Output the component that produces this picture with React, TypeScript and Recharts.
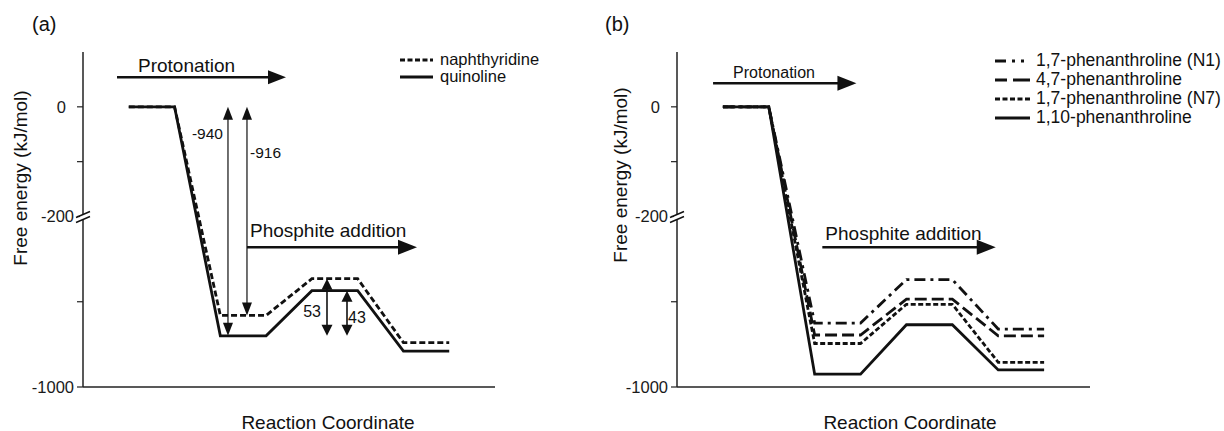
import React from 'react';
import { LineChart, Line, XAxis, YAxis, ReferenceLine, ReferenceDot, Legend } from 'recharts';

// ---------- data ----------
const steps = [0, 1, 2, 3, 4, 5, 6, 7];
const quinoline = [0, 0, -940, -940, -887, -887, -958, -958];
const naphthyridine = [0, 0, -916, -916, -873, -873, -948, -948];

const phen110 = [0, 0, -985, -985, -927, -927, -980, -980];
const phen17N7 = [0, 0, -949, -949, -903, -903, -971, -971];
const phen47 = [0, 0, -939, -939, -897, -897, -940, -940];
const phen17N1 = [0, 0, -925, -925, -874, -874, -932, -932];

const tickValues = [0, -100, -200, -900, -1000];
const tickLabels = ['0', '', '-200', '', '-1000'];

// ---------- broken axis transform ----------
const BREAK_HI = -200;
const BREAK_LO = -800;
const K = 1.555;
const T = (v: number) => (v >= BREAK_HI ? v : BREAK_HI + (v - BREAK_LO) * K);
const Y_DOMAIN: [number, number] = [T(-1000), 100];

const INK = '#111';
const FONT = '"Liberation Sans", Arial, sans-serif';

type Series = { key: string; name: string; values: number[]; dash?: string; legendDash?: string };

const seriesA: Series[] = [
  { key: 'naphthyridine', name: 'naphthyridine', values: naphthyridine, dash: '6 3', legendDash: '5 2.5' },
  { key: 'quinoline', name: 'quinoline', values: quinoline },
];
const seriesB: Series[] = [
  { key: 'n1', name: '1,7-phenanthroline (N1)', values: phen17N1, dash: '11 5 3 5', legendDash: '11 6 3 6 3 20' },
  { key: 'p47', name: '4,7-phenanthroline', values: phen47, dash: '12 5', legendDash: '12 6 20 0' },
  { key: 'n7', name: '1,7-phenanthroline (N7)', values: phen17N7, dash: '5 2.5', legendDash: '5 2.5' },
  { key: 'p110', name: '1,10-phenanthroline', values: phen110 },
];

const buildTable = (series: Series[]) =>
  steps.map((s, i) => {
    const row: any = { x: s };
    series.forEach((se) => (row[se.key] = T(se.values[i])));
    return row;
  });

type Arrow = { x1: number; v1: number; x2: number; v2: number; w: number; len: number; hw: number; both?: boolean };
type Note = { x: number; v: number; text: string; size: number; anchor: 'start' | 'end' | 'middle' };

const arrowsA: Arrow[] = [
  { x1: -0.257, v1: 54, x2: 3.434, v2: 54, w: 2.6, len: 18, hw: 7 },
  { x1: 2.582, v1: -836, x2: 6.296, v2: -836, w: 2.6, len: 19, hw: 7.5 },
  { x1: 2.167, v1: 0, x2: 2.167, v2: -940, w: 1.2, len: 13, hw: 5, both: true },
  { x1: 2.582, v1: 0, x2: 2.582, v2: -916, w: 1.2, len: 13, hw: 5, both: true },
  { x1: 4.33, v1: -873, x2: 4.33, v2: -940, w: 1.6, len: 11, hw: 5.5, both: true },
  { x1: 4.767, v1: -887, x2: 4.767, v2: -940, w: 1.6, len: 11, hw: 5.5, both: true },
];
const notesA: Note[] = [
  { x: 0.201, v: 76, text: 'Protonation', size: 19, anchor: 'start' },
  { x: 2.648, v: -817, text: 'Phosphite addition', size: 19, anchor: 'start' },
  { x: 2.058, v: -48, text: '-940', size: 15.5, anchor: 'end' },
  { x: 2.648, v: -84, text: '-916', size: 15.5, anchor: 'start' },
  { x: 4.199, v: -912, text: '53', size: 16, anchor: 'end' },
  { x: 4.789, v: -918, text: '43', size: 16, anchor: 'start' },
];
const arrowsB: Arrow[] = [
  { x1: -0.214, v1: 43, x2: 2.91, v2: 43, w: 2.6, len: 19, hw: 7.5 },
  { x1: 2.167, v1: -836, x2: 5.946, v2: -836, w: 2.6, len: 19, hw: 7.5 },
];
const notesB: Note[] = [
  { x: 0.223, v: 63, text: 'Protonation', size: 16, anchor: 'start' },
  { x: 2.233, v: -820, text: 'Phosphite addition', size: 19, anchor: 'start' },
];

// ---------- drawing helpers ----------
const arrowShape = (a: Arrow) => (p: any) => {
  const { x1, y1, x2, y2 } = p;
  const dx = x2 - x1;
  const dy = y2 - y1;
  const L = Math.hypot(dx, dy) || 1;
  const ux = dx / L;
  const uy = dy / L;
  const px = -uy;
  const py = ux;
  const head = (tx: number, ty: number, dxu: number, dyu: number) =>
    `${tx},${ty} ${tx - dxu * a.len + px * a.hw},${ty - dyu * a.len + py * a.hw} ${tx - dxu * a.len - px * a.hw},${ty - dyu * a.len - py * a.hw}`;
  const sx = a.both ? x1 + ux * a.len * 0.8 : x1;
  const sy = a.both ? y1 + uy * a.len * 0.8 : y1;
  const ex = x2 - ux * a.len * 0.8;
  const ey = y2 - uy * a.len * 0.8;
  return (
    <g>
      <line x1={sx} y1={sy} x2={ex} y2={ey} stroke={INK} strokeWidth={a.w} />
      <polygon points={head(x2, y2, ux, uy)} fill={INK} />
      {a.both ? <polygon points={head(x1, y1, -ux, -uy)} fill={INK} /> : null}
    </g>
  );
};

const renderArrows = (list: Arrow[], prefix: string) =>
  list.map((a, i) => (
    <ReferenceLine
      key={`${prefix}-arr-${i}`}
      segment={[
        { x: a.x1, y: T(a.v1) },
        { x: a.x2, y: T(a.v2) },
      ]}
      ifOverflow="visible"
      shape={arrowShape(a)}
    />
  ));

const renderNotes = (list: Note[], prefix: string) =>
  list.map((n, i) => (
    <ReferenceDot
      key={`${prefix}-note-${i}`}
      x={n.x}
      y={T(n.v)}
      r={1}
      ifOverflow="visible"
      shape={(p: any) => (
        <text
          x={p.cx}
          y={p.cy}
          textAnchor={n.anchor}
          dominantBaseline="central"
          fontSize={n.size}
          fontFamily={FONT}
          fill={INK}
        >
          {n.text}
        </text>
      )}
    />
  ));

const breakMark = (prefix: string) => (
  <ReferenceDot
    key={`${prefix}-break`}
    x={-1}
    y={T(-200)}
    r={1}
    ifOverflow="visible"
    shape={(p: any) => {
      const cx = p.cx;
      const cy = p.cy;
      return (
        <g>
          <rect x={cx - 3} y={cy - 1.5} width={6} height={4} fill="#fff" />
          <line x1={cx - 7} y1={cy + 1} x2={cx + 7} y2={cy - 5} stroke={INK} strokeWidth={1.4} />
          <line x1={cx - 7} y1={cy + 6} x2={cx + 7} y2={cy} stroke={INK} strokeWidth={1.4} />
        </g>
      );
    }}
  />
);

const YTick = (props: any) => {
  const { x, y, payload } = props;
  const idx = tickValues.findIndex((v) => Math.abs(T(v) - payload.value) < 1e-6);
  const label = idx >= 0 ? tickLabels[idx] : '';
  if (!label) return <g />;
  const dx = label === '0' ? -8 : 0;
  return (
    <text x={x + dx} y={y} textAnchor="end" dominantBaseline="central" fontSize={16.5} fontFamily={FONT} fill="#1a1a1a">
      {label}
    </text>
  );
};

const legendContent = (series: Series[], rowH: number, fontSize: number, lineW: number, gap: number) => () =>
  (
    <div style={{ fontFamily: FONT, fontSize, color: INK }}>
      {series.map((s) => (
        <div key={s.key} style={{ display: 'flex', alignItems: 'center', height: rowH, whiteSpace: 'nowrap' }}>
          <svg width={lineW} height={8} style={{ marginRight: gap, display: 'block' }}>
            <line x1={0} y1={4} x2={lineW} y2={4} stroke={INK} strokeWidth={3} strokeDasharray={s.legendDash} />
          </svg>
          <span>{s.name}</span>
        </div>
      ))}
    </div>
  );

type PanelProps = {
  series: Series[];
  arrows: Arrow[];
  notes: Note[];
  width: number;
  rightMargin: number;
  legendLeft: number;
  legendTop: number;
  legendRowH: number;
  legendFont: number;
  legendLineW: number;
  legendGap: number;
  prefix: string;
};

const Panel = (pp: PanelProps) => {
  const data = buildTable(pp.series);
  return (
    <LineChart
      width={pp.width}
      height={431}
      data={data}
      margin={{ top: 52, right: pp.rightMargin, bottom: 14, left: 0 }}
    >
      <XAxis
        type="number"
        dataKey="x"
        domain={[-1, 8]}
        ticks={[]}
        tick={false}
        tickLine={false}
        axisLine={{ stroke: '#222', strokeWidth: 1.5 }}
        height={30}
      />
      <YAxis
        type="number"
        domain={Y_DOMAIN}
        ticks={tickValues.map(T)}
        interval={0}
        width={83}
        tickSize={6}
        tickMargin={3}
        tick={<YTick />}
        tickLine={{ stroke: '#222', strokeWidth: 1.2 }}
        axisLine={{ stroke: '#222', strokeWidth: 1.5 }}
      />
      {pp.series.map((s) => (
        <Line
          key={s.key}
          type="linear"
          dataKey={s.key}
          name={s.name}
          stroke={INK}
          strokeWidth={2.8}
          strokeDasharray={s.dash}
          dot={false}
          activeDot={false}
          isAnimationActive={false}
        />
      ))}
      {breakMark(pp.prefix)}
      {renderArrows(pp.arrows, pp.prefix)}
      {renderNotes(pp.notes, pp.prefix)}
      <Legend
        layout="vertical"
        align="center"
        verticalAlign="middle"
        wrapperStyle={{ top: pp.legendTop, left: pp.legendLeft, width: 240 }}
        content={legendContent(pp.series, pp.legendRowH, pp.legendFont, pp.legendLineW, pp.legendGap)}
      />
    </LineChart>
  );
};

export default function App() {
  return (
    <div
      style={{
        position: 'absolute',
        left: 0,
        top: 0,
        width: 1224,
        height: 431,
        background: '#fff',
        fontFamily: FONT,
        overflow: 'hidden',
      }}
    >
      <div style={{ position: 'absolute', left: 0, top: 0 }}>
        <Panel
          series={seriesA}
          arrows={arrowsA}
          notes={notesA}
          width={600}
          rightMargin={105}
          legendLeft={400}
          legendTop={51}
          legendRowH={17}
          legendFont={16.5}
          legendLineW={33}
          legendGap={7}
          prefix="a"
        />
      </div>
      <div style={{ position: 'absolute', left: 594, top: 0 }}>
        <Panel
          series={seriesB}
          arrows={arrowsB}
          notes={notesB}
          width={630}
          rightMargin={134}
          legendLeft={401}
          legendTop={51}
          legendRowH={19}
          legendFont={17.5}
          legendLineW={35}
          legendGap={6}
          prefix="b"
        />
      </div>
      <svg
        width={1224}
        height={431}
        style={{ position: 'absolute', left: 0, top: 0, pointerEvents: 'none' }}
      >
        <g fontFamily={FONT} fill={INK}>
          <text x={32} y={24} fontSize={20} dominantBaseline="central">(a)</text>
          <text x={605} y={24} fontSize={20} dominantBaseline="central">(b)</text>
          <text x={20} y={178} fontSize={19} textAnchor="middle" dominantBaseline="central" transform="rotate(-90 20 178)">
            Free energy (kJ/mol)
          </text>
          <text x={620} y={175} fontSize={19} textAnchor="middle" dominantBaseline="central" transform="rotate(-90 620 175)">
            Free energy (kJ/mol)
          </text>
          <text x={328} y={422} fontSize={19} textAnchor="middle" dominantBaseline="central">
            Reaction Coordinate
          </text>
          <text x={910} y={422} fontSize={19} textAnchor="middle" dominantBaseline="central">
            Reaction Coordinate
          </text>
        </g>
      </svg>
    </div>
  );
}
